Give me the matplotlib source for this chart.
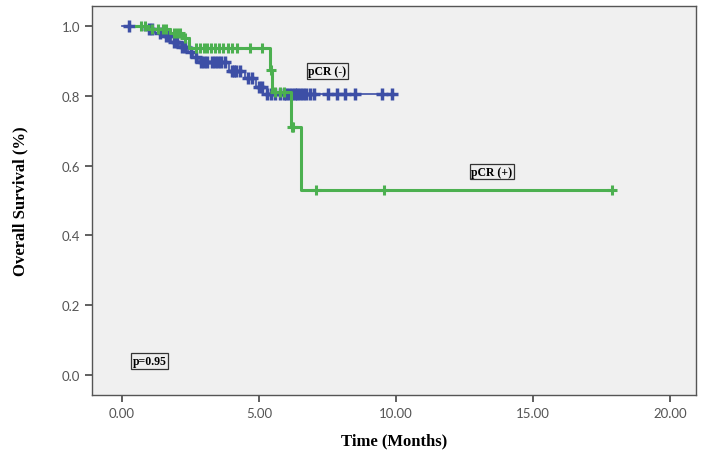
import numpy as np
import matplotlib.pyplot as plt

# pCR (-) curve: step times and survival after each step
neg_t = [0.0, 0.9, 1.2, 1.5, 1.8, 2.1, 2.4, 2.6, 2.8, 3.9, 4.5, 4.9, 5.15, 9.9]
neg_s = [1.0, 0.99, 0.98, 0.97, 0.955, 0.94, 0.925, 0.91, 0.897, 0.87, 0.85, 0.825, 0.806, 0.806]
neg_cens = [0.25, 1.0, 1.1, 1.4, 1.6, 1.7, 1.9, 2.0, 2.2, 2.3, 2.5, 2.7, 2.9, 3.0, 3.1,
            3.3, 3.4, 3.5, 3.6, 3.75, 4.0, 4.1, 4.15, 4.3, 4.6, 4.75, 5.0, 5.1, 5.3,
            5.45, 5.6, 5.75, 5.9, 6.0, 6.1, 6.2, 6.3, 6.4, 6.5, 6.6, 6.7, 6.85, 7.0,
            7.5, 7.85, 8.15, 8.5, 9.5, 9.85]

# pCR (+) curve
pos_t = [0.5, 0.95, 1.75, 2.2, 2.45, 5.4, 5.48, 6.15, 6.55, 17.9]
pos_s = [1.0, 0.99, 0.98, 0.965, 0.937, 0.875, 0.81, 0.71, 0.53, 0.53]
pos_cens = [0.7, 0.85, 1.1, 1.3, 1.5, 1.6, 1.9, 2.0, 2.1, 2.3, 2.7, 2.85, 3.0, 3.1, 3.25,
            3.4, 3.55, 3.7, 3.85, 4.0, 4.2, 4.67, 5.1, 5.42, 5.6, 5.75, 5.9, 6.2, 6.25,
            7.08, 9.56, 17.9]

x_ticks = [0, 5, 10, 15, 20]
y_ticks = [0.0, 0.2, 0.4, 0.6, 0.8, 1.0]

blue = '#3d4fa6'
green = '#4cb050'


def surv_at(times, surv, t):
    # value of the step function at time t
    idx = np.searchsorted(times, t, side='right') - 1
    return np.array(surv)[np.clip(idx, 0, len(surv) - 1)]


fig = plt.figure(figsize=(7.04, 4.56), dpi=100)
ax = fig.add_axes([0.1307, 0.1316, 0.858, 0.853])
ax.set_facecolor('#f0f0f0')
fig.patch.set_facecolor('white')

ax.step(neg_t, neg_s, where='post', color=blue, lw=1.2, zorder=3)
ax.plot(neg_cens, surv_at(neg_t, neg_s, neg_cens), '+', color=blue,
        ms=8, mew=2.5, zorder=3)

ax.step(pos_t, pos_s, where='post', color=green, lw=2.2, zorder=4)
ax.plot(pos_cens, surv_at(pos_t, pos_s, pos_cens), '+', color=green,
        ms=7.5, mew=2.2, zorder=4)

box = dict(boxstyle='square,pad=0.15', fc='#eeeeee', ec='#333333', lw=0.9)
tfont = dict(family='Liberation Serif', weight='bold', size=8.5)
ax.text(7.5, 0.871, 'pCR (-)', ha='center', va='center', bbox=box, **tfont)
ax.text(13.5, 0.583, 'pCR (+)', ha='center', va='center', bbox=box, **tfont)
ax.text(1.0, 0.04, 'p=0.95', ha='center', va='center', bbox=box, **tfont)

ax.set_xlim(-1.095, 20.95)
ax.set_ylim(-0.057, 1.057)
ax.set_xticks(x_ticks)
ax.set_xticklabels(['%.2f' % v for v in x_ticks])
ax.set_yticks(y_ticks)
ax.set_yticklabels(['%.1f' % v for v in y_ticks])
ax.tick_params(direction='out', length=5, width=1.2, color='#444444',
               labelcolor='#555555', labelsize=9.5)
for lab in ax.get_xticklabels() + ax.get_yticklabels():
    lab.set_family('Lato')
for s in ax.spines.values():
    s.set_color('#555555')
    s.set_linewidth(1.0)

ax.set_xlabel('Time (Months)', family='Liberation Serif', weight='bold',
              size=12, labelpad=10)
ax.set_ylabel('Overall Survival (%)', family='Liberation Serif', weight='bold',
              size=12, labelpad=24)

fig.savefig('out.png', dpi=100)
